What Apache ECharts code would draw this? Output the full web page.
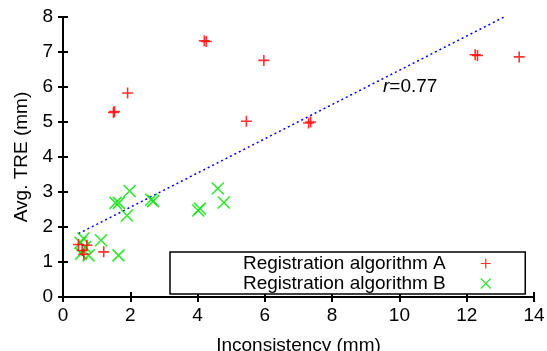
<!DOCTYPE html>
<html>
<head>
<meta charset="utf-8">
<script src="https://cdn.jsdelivr.net/npm/echarts@6/dist/echarts.min.js"></script>
<style>
  html, body { margin: 0; padding: 0; background: #fff; }
  #chart { width: 547px; height: 351px; }
</style>
</head>
<body>
<div id="chart"></div>
<script>
// registration algorithm A (red plus): [inconsistency, TRE]
const algoA = [
  [0.46, 1.5], [0.57, 1.33], [0.71, 1.48], [0.62, 1.22], [1.21, 1.29],
  [1.5, 5.27], [1.53, 5.3], [1.92, 5.83], [4.2, 7.32], [4.26, 7.3],
  [5.45, 5.02], [5.97, 6.76], [7.3, 4.97], [7.36, 5.0],
  [12.25, 6.92], [12.32, 6.9], [13.56, 6.86],
];
// registration algorithm B (green x)
const algoB = [
  [0.54, 1.24], [0.61, 1.67], [0.66, 1.43], [0.76, 1.19], [0.52, 1.55],
  [1.13, 1.62], [1.65, 1.19], [1.56, 2.69], [1.66, 2.69], [1.98, 3.03],
  [1.9, 2.33], [2.62, 2.78], [2.68, 2.74], [4.02, 2.47], [4.07, 2.53],
  [4.6, 3.1], [4.78, 2.7],
];
// dotted fit line ends
const fitLine = [[0.46, 1.81], [13.11, 8.0]];
const corrLabel = "0.77";

const plusIcon = "path://M0,5L10,5M5,0L5,10";
const crossIcon = "path://M0,0L10,10M10,0L0,10";
const font = "Liberation Sans, Arial, sans-serif";

const chart = echarts.init(document.getElementById("chart"));

const axisCommon = {
  axisLine: { lineStyle: { color: "#000", width: 2 } },
  axisTick: { inside: true, length: 5, lineStyle: { color: "#000", width: 2 } },
  splitLine: { show: false },
};

chart.setOption({
  animation: false,
  backgroundColor: "#fff",
  textStyle: { fontFamily: font },
  grid: { left: 63, right: 13, top: 17, bottom: 54, containLabel: false, outerBoundsMode: "none" },
  xAxis: [
    {
      ...axisCommon,
      type: "value", min: 0, max: 14, interval: 2,
      name: "Inconsistency (mm)", nameLocation: "middle", nameGap: 39,
      nameTextStyle: { fontSize: 19, color: "#000", fontFamily: font },
      axisLabel: { fontSize: 19, color: "#000", margin: 9, fontFamily: font },
    },
    {
      ...axisCommon,
      type: "value", min: 0, max: 14, interval: 2, position: "top",
      axisLabel: { show: false },
    },
  ],
  yAxis: [
    {
      ...axisCommon,
      type: "value", min: 0, max: 8, interval: 1,
      name: "Avg. TRE (mm)", nameLocation: "middle", nameGap: 27,
      nameTextStyle: { fontSize: 19, color: "#000", fontFamily: font },
      axisLabel: { fontSize: 19, color: "#000", margin: 10, fontFamily: font },
    },
    {
      ...axisCommon,
      type: "value", min: 0, max: 8, interval: 1, position: "right",
      axisLabel: { show: false },
    },
  ],
  legend: {
    orient: "vertical",
    left: 170, top: 252,
    align: "right",
    padding: [2, 32, 1, 73],
    itemGap: 1,
    itemWidth: 10, itemHeight: 10,
    backgroundColor: "#fff",
    borderColor: "#000",
    borderWidth: 1.5,
    textStyle: {
      fontSize: 19, lineHeight: 18, color: "#000", fontFamily: font,
      padding: [0, 30, 0, 0],
    },
    data: [
      { name: "Registration algorithm A", icon: plusIcon,
        itemStyle: { color: "none", borderColor: "#ff0000", borderWidth: 1.2 } },
      { name: "Registration algorithm B", icon: crossIcon,
        itemStyle: { color: "none", borderColor: "#00dd00", borderWidth: 1.2 } },
    ],
  },
  series: [
    {
      name: "fit",
      type: "line",
      data: fitLine,
      symbol: "none",
      silent: true,
      lineStyle: { color: "#0000ff", width: 1.5, type: [2, 3] },
      z: 1,
    },
    {
      name: "Registration algorithm A",
      type: "scatter",
      data: algoA,
      symbol: plusIcon,
      symbolSize: 11,
      itemStyle: { color: "none", borderColor: "#ff0000", borderWidth: 1.6 },
      z: 3,
    },
    {
      name: "Registration algorithm B",
      type: "scatter",
      data: algoB,
      symbol: crossIcon,
      symbolSize: 12,
      itemStyle: { color: "none", borderColor: "#00e000", borderWidth: 1.6 },
      z: 2,
    },
  ],
  graphic: [
    {
      type: "text",
      left: 383, top: 77,
      style: {
        text: "{i|r}=" + corrLabel,
        fontSize: 19, fill: "#000", fontFamily: font,
        rich: { i: { fontStyle: "italic", fontSize: 19, fontFamily: font } },
      },
    },
  ],
});
</script>
</body>
</html>
